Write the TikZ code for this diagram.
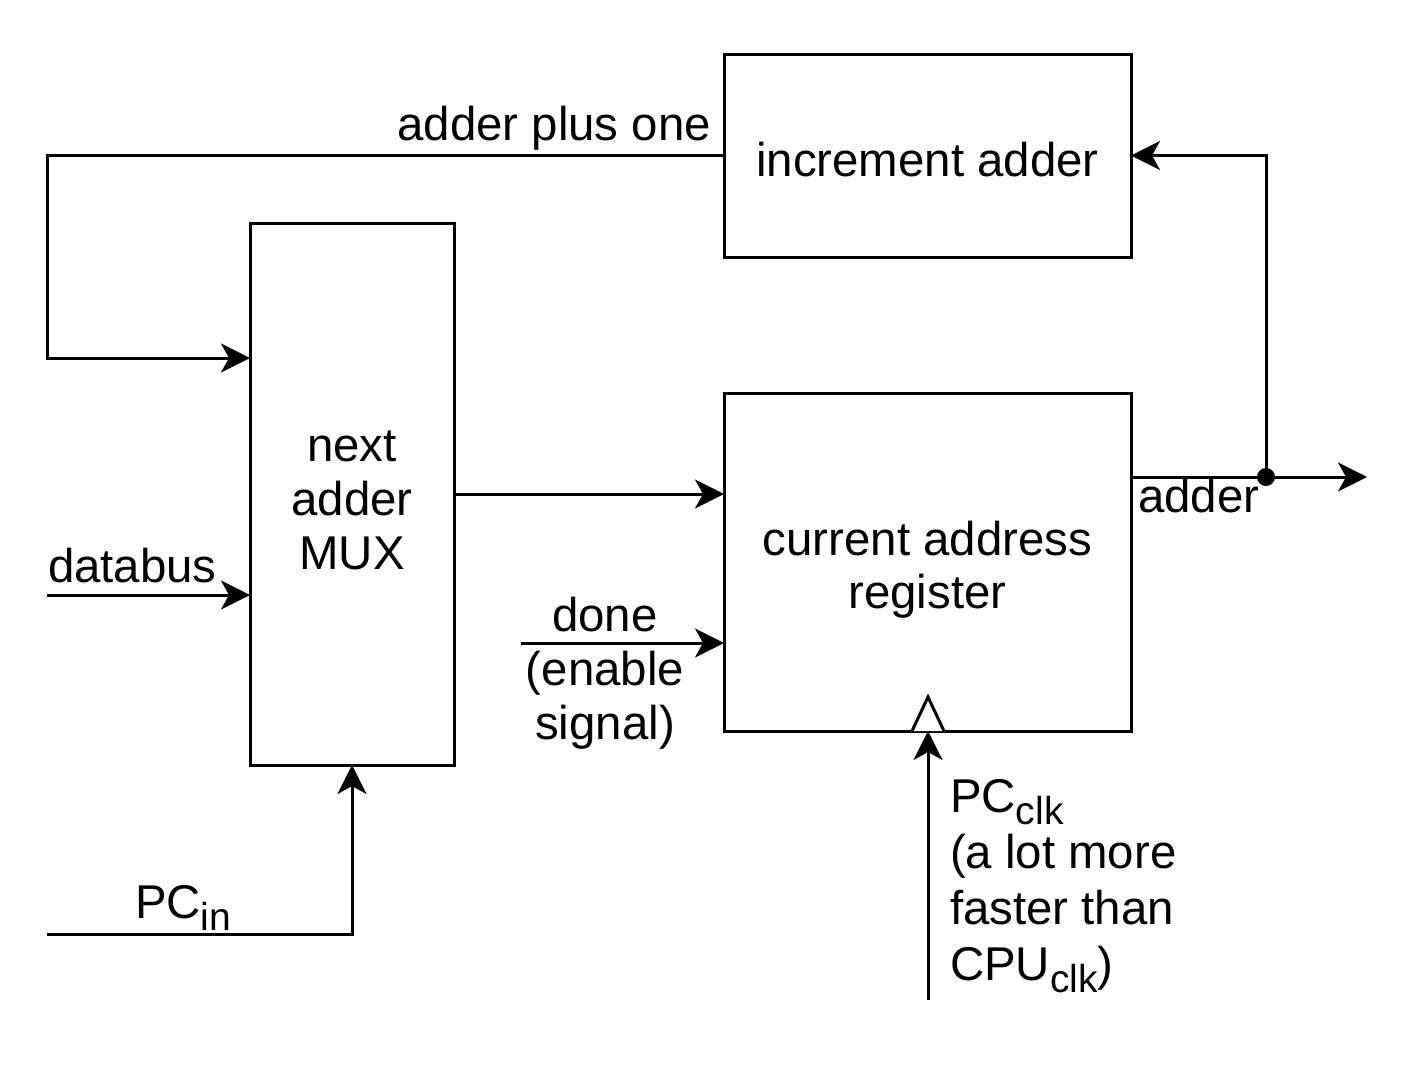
\documentclass[tikz,border=0pt]{standalone}
\usepackage{fontspec}
\setmainfont{Liberation Sans}
\usetikzlibrary{arrows.meta}
\newcommand{\mysub}[1]{\raisebox{-6pt}{\fontsize{19.5}{20}\selectfont #1}}
\begin{document}
\begin{tikzpicture}[x=0.5pt,y=-0.5pt,
  every node/.style={font=\fontsize{23.7}{27}\selectfont, inner sep=0pt, outer sep=0pt},
  box/.style={draw, line width=1.5pt, align=center},
  lbl/.style={},
  arr/.style={line width=1.5pt, -{Stealth[length=14.5pt,width=14.5pt,inset=4pt]}},
  wire/.style={line width=1.5pt},
  line join=miter]
\useasboundingbox (0,0) rectangle (1412,1082);

% boxes
\node[box, minimum width=203.5pt, minimum height=101.5pt, text height=21pt, text depth=0.5pt] (inc) at (927.5,155.5) {increment adder};
\node[box, minimum width=102pt, minimum height=271pt] (mux) at (352,494) {\rule{0pt}{22pt}next\\adder\\MUX};
\node[box, minimum width=203.5pt, minimum height=169pt, font=\fontsize{23.7}{26.5}\selectfont] (reg) at (927.5,562) {\rule{0pt}{25pt}current address\\register\rule[-5pt]{0pt}{5pt}};

% coordinates
\coordinate (aL) at (47,155.5);
\coordinate (aIn) at (250,358);
\coordinate (dbs) at (47,595);
\coordinate (pcin) at (47,934);
\coordinate (dn) at (521,643);
\coordinate (out) at (1367,477);
\coordinate (j) at (1266,477);
\coordinate (clk) at (928,1000);
\coordinate (trL) at (912,731);
\coordinate (trT) at (928,697);
\coordinate (trR) at (944,731);

% connectors
\draw[arr] (inc.west) -- (aL) |- (aIn);
\draw[arr] (dbs) -- (dbs -| mux.west);
\draw[arr] (pcin) -| (mux.south);
\draw[arr] (mux.east |- 0,494) -- (reg.west |- 0,494);
\draw[arr] (dn) -- (dn -| reg.west);
\draw[arr] (reg.east |- out) -- (out);
\draw[arr] (j) |- (inc.east);
\fill (j) circle[radius=4.5pt];
\draw[wire, fill=white] (trL) -- (trT) -- (trR);
\draw[arr] (clk) -- (clk |- reg.south);

% labels
\node[lbl, anchor=base east] (lplus) at (711,140) {adder plus one};
\node[lbl, anchor=base west] (ldb) at (48,582) {databus};
\node[lbl, anchor=base west] (lpcin) at (135,918) {PC\mysub{in}};
\node[lbl, anchor=base, align=center] (ldone) at (605,739) {done\\(enable\\signal)};
\node[lbl, anchor=base west] (ladder) at (1138,512) {adder};
\node[lbl, anchor=base west, align=left, font=\fontsize{23.7}{28}\selectfont] (lclk) at (950,980) {PC\mysub{clk}\\(a lot more\\faster than\\CPU\mysub{clk})};
\end{tikzpicture}
\end{document}
